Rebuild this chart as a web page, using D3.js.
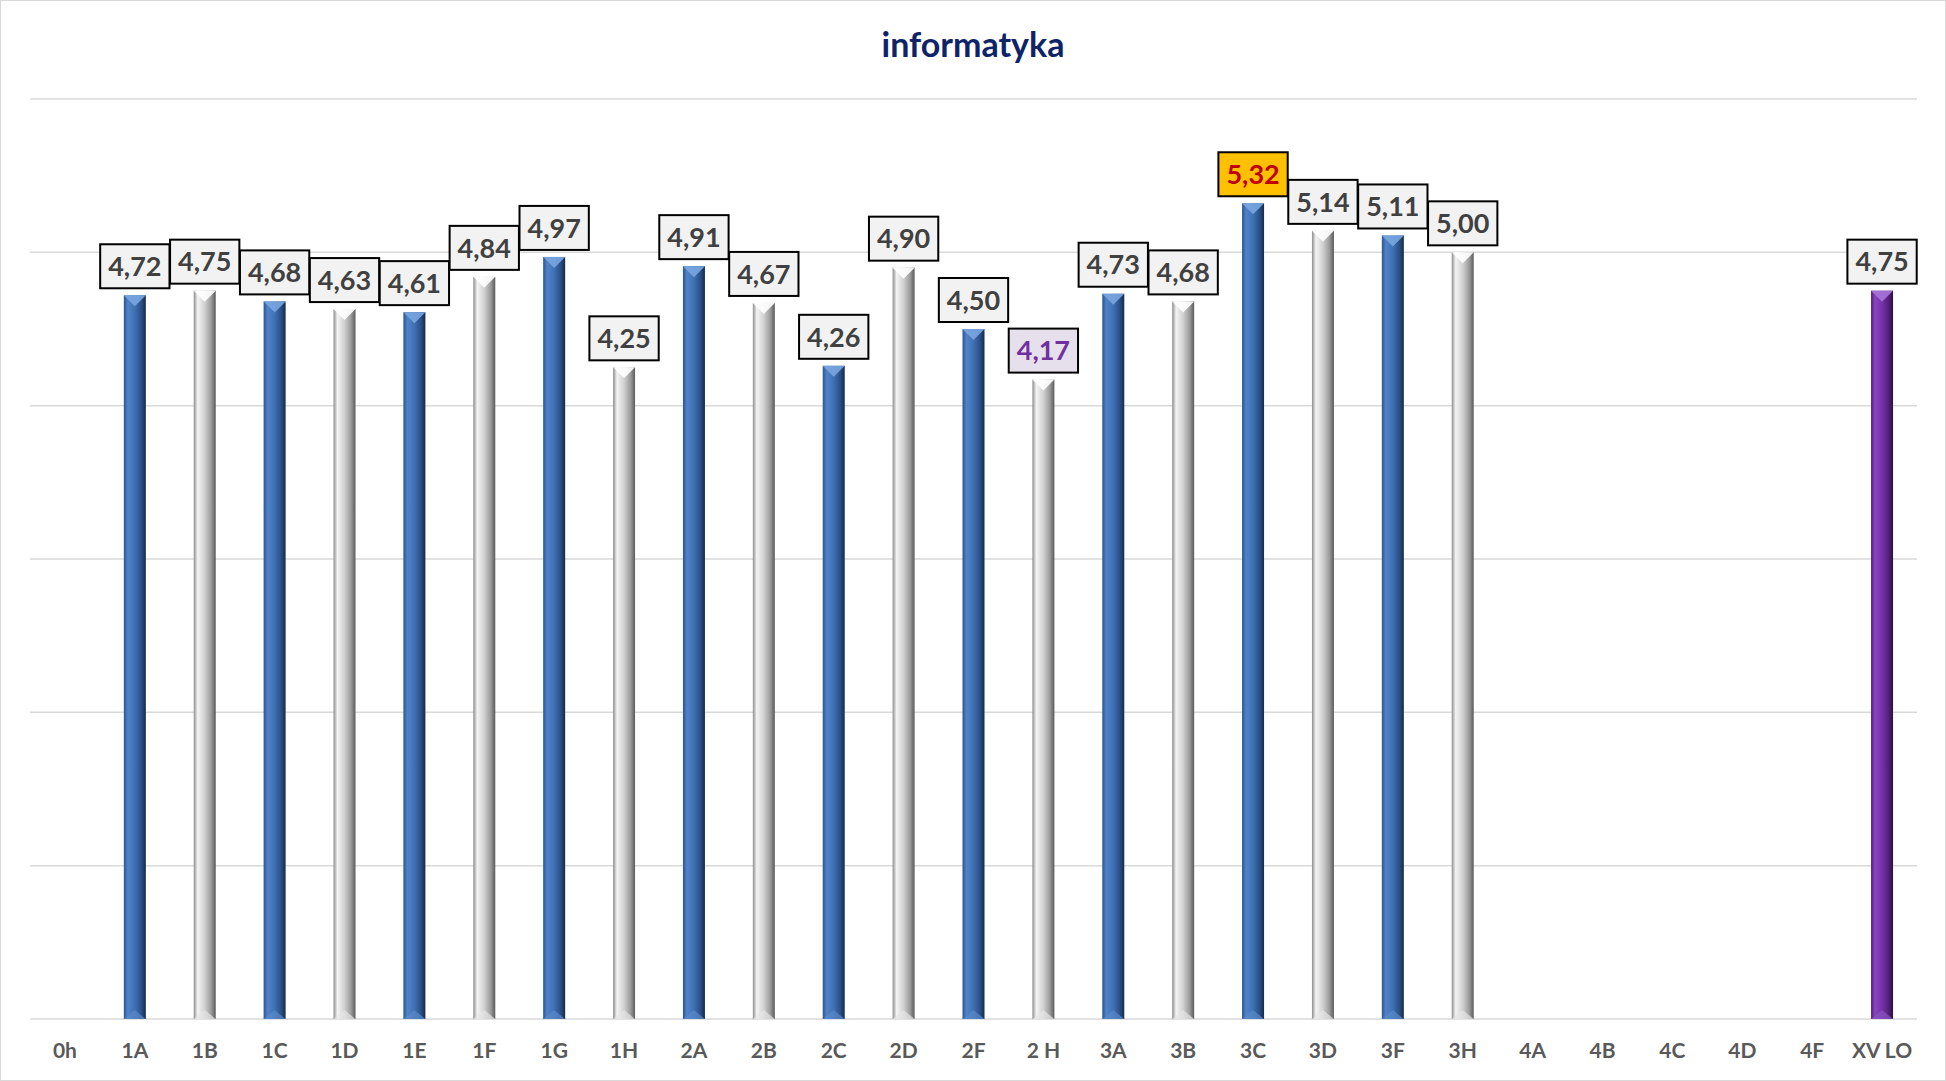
<!DOCTYPE html>
<html>
<head>
<meta charset="utf-8">
<script src="https://cdn.jsdelivr.net/npm/d3@7"></script>
<style>
  body { margin: 0; background: #fff; }
  svg { display: block; font-family: Lato, "Open Sans", sans-serif; }
</style>
</head>
<body>
<svg id="chart" width="1946" height="1081"></svg>
<script>
// categories along the x axis
const categories = ["0h","1A","1B","1C","1D","1E","1F","1G","1H","2A","2B","2C","2D","2F","2 H",
  "3A","3B","3C","3D","3F","3H","4A","4B","4C","4D","4F","XV LO"]
// averages (null = no bar)
const values = [null,4.72,4.75,4.68,4.63,4.61,4.84,4.97,4.25,4.91,4.67,4.26,4.90,4.50,4.17,
  4.73,4.68,5.32,5.14,5.11,5.00,null,null,null,null,null,4.75]
// bar style per category
const barKind = ["blue","blue","grey","blue","grey","blue","grey","blue","grey","blue","grey","blue","grey","blue","grey",
  "blue","grey","blue","grey","blue","grey","blue","grey","blue","grey","blue","purple"]
const yTicks = [0,1,2,3,4,5,6]

const width = 1946, height = 1081
const margin = {left: 30, right: 29, top: 99, bottom: 62}

const svg = d3.select("#chart")

// outer frame
svg.append("rect")
  .attr("x", 0.5).attr("y", 0.5)
  .attr("width", width - 1).attr("height", height - 1)
  .attr("fill", "#fff").attr("stroke", "#d9d9d9")

const x = d3.scaleBand()
  .domain(categories)
  .range([margin.left, width - margin.right])
  .padding(0)

const y = d3.scaleLinear()
  .domain([0, 6])
  .range([height - margin.bottom, margin.top])

// gradients for the bevelled bars
const palette = {
  blue:   {stops: ["#2c5390","#4f83c8","#3f70b3","#2a4f85","#152a48"], cap: "#7aa6e0", base: "#5a8acb"},
  grey:   {stops: ["#8c8c8c","#f4f4f4","#d0d0d0","#9a9a9a","#5a5a5a"], cap: "#ffffff", base: "#e6e6e6"},
  purple: {stops: ["#4b1f72","#8a45c2","#7232a6","#52207a","#2c0f45"], cap: "#a874d8", base: "#8c52c0"}
}
const defs = svg.append("defs")
Object.entries(palette).forEach(([k, p]) => {
  const g = defs.append("linearGradient").attr("id", "grad-" + k)
    .attr("x1", "0").attr("x2", "1").attr("y1", "0").attr("y2", "0")
  const offs = [0, 0.18, 0.5, 0.8, 1]
  p.stops.forEach((c, i) => g.append("stop").attr("offset", offs[i]).attr("stop-color", c))
})

// gridlines
svg.append("g")
  .selectAll("line")
  .data(yTicks)
  .join("line")
  .attr("x1", margin.left).attr("x2", width - margin.right)
  .attr("y1", d => y(d)).attr("y2", d => y(d))
  .attr("stroke", "#d9d9d9").attr("stroke-width", 1.5)

// title
svg.append("text")
  .attr("x", 973).attr("y", 57)
  .attr("text-anchor", "middle")
  .attr("font-size", 34).attr("font-weight", "bold")
  .attr("fill", "#0f2466")
  .text("informatyka")

// x axis labels
const xAxis = svg.append("g")
  .attr("transform", `translate(0,${y(0)})`)
  .call(d3.axisBottom(x).tickSize(0).tickPadding(24))
xAxis.select(".domain").remove()
xAxis.selectAll("text")
  .attr("font-family", "Lato, 'Open Sans', sans-serif")
  .attr("font-size", 21).attr("font-weight", "bold")
  .attr("fill", "#595959")

const data = categories.map((c, i) => ({cat: c, v: values[i], kind: barKind[i]}))
  .filter(d => d.v != null)

const bw = 22
const bars = svg.append("g")
  .selectAll("g")
  .data(data)
  .join("g")
  .attr("transform", d => `translate(${x(d.cat) + x.bandwidth() / 2 - bw / 2},0)`)

bars.append("rect")
  .attr("x", 0).attr("y", d => y(d.v))
  .attr("width", bw).attr("height", d => y(0) - y(d.v))
  .attr("fill", d => `url(#grad-${d.kind})`)

// top bevel
bars.append("path")
  .attr("d", d => `M0,${y(d.v)}L${bw},${y(d.v)}L${bw / 2},${y(d.v) + 11}Z`)
  .attr("fill", d => palette[d.kind].cap)
  .attr("opacity", 0.9)

// bottom bevel
bars.append("path")
  .attr("d", d => `M0,${y(0)}L${bw},${y(0)}L${bw / 2},${y(0) - 9}Z`)
  .attr("fill", d => palette[d.kind].base)
  .attr("opacity", 0.7)

// value labels
const labelStyle = {
  "3C": {fill: "#ffc000", color: "#c00000"},
  "2 H": {fill: "#e6e0ec", color: "#7030a0"}
}
const fmt = v => d3.format(".2f")(v).replace(".", ",")

const labels = svg.append("g")
  .selectAll("g")
  .data(data)
  .join("g")
  .attr("transform", d => `translate(${x(d.cat) + x.bandwidth() / 2},${y(d.v) - 7 - 22})`)

labels.each(function (d) {
  const g = d3.select(this)
  const st = labelStyle[d.cat] || {fill: "#f2f2f2", color: "#404040"}
  const box = g.append("rect")
  const t = g.append("text")
    .attr("text-anchor", "middle")
    .attr("dy", "0.36em")
    .attr("font-size", 27).attr("font-weight", "bold")
    .attr("fill", st.color)
    .text(fmt(d.v))
  const w = t.node().getComputedTextLength() + 16
  box.attr("x", -w / 2).attr("y", -22)
    .attr("width", w).attr("height", 44)
    .attr("fill", st.fill).attr("stroke", "#000").attr("stroke-width", 2)
})
</script>
</body>
</html>
